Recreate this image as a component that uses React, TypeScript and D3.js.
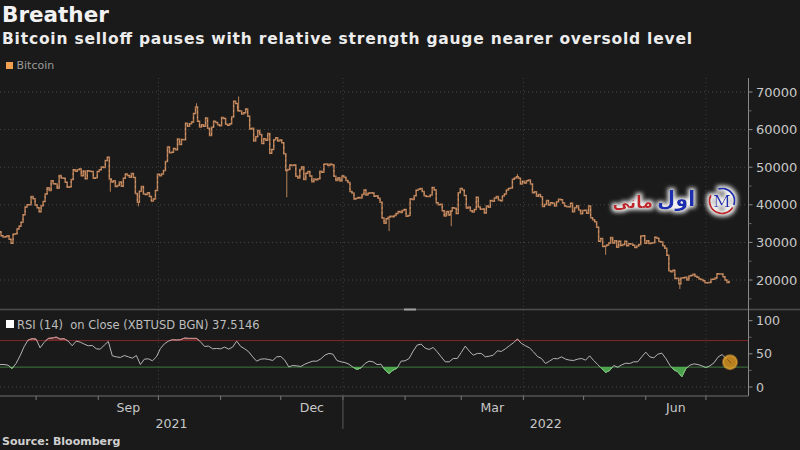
import React, { useEffect } from "react";
import * as d3 from "d3";

// ---- Data ----
const seriesStart = "2021-07-14";
const closeJul2021 = [32820, 31780, 31420, 31520, 31780, 30840, 29790, 32140, 32310, 33580, 34290, 35380, 37340, 39400, 40010, 40020, 42240, 41630];
const closeAug2021 = [39970, 39200, 38150, 39750, 40870, 42840, 44560, 43800, 46370, 45590, 45560, 44430, 47810, 47100, 47050, 46000, 44690, 44800, 46720, 49340, 48900, 49320, 49550, 47700, 48990, 46940, 49060, 48900, 48830, 47050, 47170];
const closeSep2021 = [48850, 49330, 50030, 49940, 51770, 52660, 46860, 46080, 46370, 44850, 45160, 46060, 44960, 47090, 48180, 47780, 47310, 48310, 47260, 43010, 40690, 43590, 44880, 42840, 42720, 43210, 42240, 41030, 41560, 43790];
const closeOct2021 = [48120, 47710, 48200, 49110, 51510, 55360, 53810, 53970, 54970, 54660, 57490, 56040, 57400, 57320, 61670, 60880, 61530, 62010, 64280, 66000, 62210, 60690, 61290, 60860, 63080, 60330, 58450, 60620, 62230, 61890, 61320];
const closeNov2021 = [61000, 63230, 62940, 61450, 61130, 61530, 63330, 67570, 66970, 64990, 64950, 64160, 64470, 65470, 63560, 60160, 60370, 56940, 58120, 59760, 58720, 56290, 57570, 57180, 58960, 53730, 54720, 57270, 57810, 56950];
const closeDec2021 = [57230, 56510, 53600, 49150, 49400, 50580, 50470, 50590, 47620, 47140, 49390, 50100, 46740, 48380, 48860, 47630, 46130, 46830, 46680, 46910, 48930, 48630, 50780, 50820, 50430, 50810, 50640, 47590, 46440, 47180, 46310];
const closeJan2022 = [47690, 47350, 46460, 45900, 43570, 43160, 41560, 41730, 41910, 41820, 42740, 43950, 42590, 43100, 43180, 43110, 42250, 42380, 41740, 40700, 36480, 35080, 36280, 36690, 36960, 36850, 37140, 37710, 38190, 37920, 38480];
const closeFeb2022 = [38740, 36950, 37150, 41570, 41400, 42410, 43840, 44120, 44340, 43570, 42410, 42240, 42200, 42590, 44580, 43960, 40540, 40030, 40120, 38430, 37020, 38250, 37270, 38330, 39220, 39110, 37710, 43190];
const closeMar2022 = [44350, 43920, 42450, 39150, 39400, 38420, 38060, 38740, 41980, 39440, 38790, 38900, 37850, 39670, 39340, 41140, 40950, 41800, 42190, 41250, 41080, 42360, 42890, 43960, 44350, 44500, 46820, 47130, 47460, 47060, 45540];
const closeApr2022 = [46280, 45810, 46410, 46620, 45560, 43210, 43440, 42250, 42760, 42160, 39530, 40070, 41150, 39940, 40550, 40400, 39700, 40800, 41490, 41370, 40480, 39710, 39470, 39450, 40430, 38120, 39240, 39740, 38600, 37650];
const closeMay2022 = [38470, 38530, 37750, 39690, 36550, 36010, 35470, 34060, 30300, 31020, 28940, 29050, 29280, 29860, 31300, 29860, 30420, 28720, 30300, 29200, 29430, 30320, 29100, 29650, 29560, 29270, 28630, 29030, 29470, 31730, 31790];
const closeJun2022 = [29800, 30450, 29700, 29860, 29900, 31370, 31130, 30210, 30110, 29090, 28420, 26570, 22490, 22210, 22580, 20380, 20470, 19020, 20550, 20570, 20720, 19970, 21090, 21230, 21500, 21030, 20730, 20280, 20100, 19780];
const closeJul2022 = [19300, 19250, 19320, 20230, 20190, 20550, 21630, 21590, 21590, 20860, 19970, 19330, 19600];

const wickDates = ["2021-09-07", "2021-09-21", "2021-12-04", "2022-01-24", "2022-02-24", "2022-05-12", "2022-06-18", "2021-11-10", "2021-10-20", "2022-03-29"];
const wickPrices = [43500, 39600, 42000, 33000, 34300, 26700, 17600, 68800, 67000, 48200];

const rsiStepDays = 2;
const rsiValues = [
  33.9, 33.9, 32.9, 27.9, 35.4, 47.0, 60.7, 70.8, 72.8, 72.3,
  59.1, 67.2, 73.3, 73.8, 75.3, 72.3, 72.8, 69.2, 62.2, 69.2,
  67.7, 64.7, 62.2, 62.7, 57.6, 57.1, 63.2, 68.7, 47.0, 45.5,
  44.5, 47.5, 45.5, 43.5, 47.5, 33.9, 42.0, 42.5, 39.5, 45.5,
  58.1, 65.2, 69.2, 71.3, 70.8, 71.3, 73.8, 73.3, 73.3, 73.3,
  68.2, 61.2, 61.7, 57.6, 58.1, 57.6, 60.2, 57.1, 60.2, 69.2,
  61.2, 57.6, 53.1, 45.5, 39.0, 42.0, 42.5, 41.5, 40.0, 45.5,
  46.0, 40.5, 30.4, 32.4, 31.9, 30.9, 34.4, 36.9, 39.0, 39.0,
  42.5, 48.0, 50.6, 49.5, 40.0, 38.0, 36.9, 34.4, 29.9, 26.4,
  28.9, 35.4, 39.0, 38.0, 33.9, 34.4, 25.4, 20.3, 25.4, 28.4,
  39.0, 39.5, 43.0, 54.1, 63.2, 64.7, 58.6, 56.6, 59.7, 53.1,
  45.5, 38.0, 38.0, 43.0, 43.0, 52.1, 61.7, 54.1, 48.0, 50.6,
  50.6, 45.5, 46.5, 48.0, 54.6, 53.6, 57.6, 62.2, 66.7, 72.3,
  65.7, 62.2, 59.1, 53.1, 46.0, 43.0, 35.4, 39.0, 43.0, 42.5,
  45.5, 42.0, 40.5, 40.0, 42.0, 43.0, 40.5, 47.0, 40.0, 33.9,
  27.9, 21.9, 24.9, 32.4, 29.9, 33.4, 35.9, 35.4, 38.0, 38.0,
  45.5, 52.6, 45.5, 44.0, 49.5, 51.1, 43.0, 32.9, 25.9, 22.9,
  15.3, 27.9, 32.9, 34.9, 33.9, 31.9, 29.4, 31.9, 36.4, 45.0,
  49.0, 43.0, 37.5146,
];
const rsiLastLabel = "37.5146";
const rsiOverbought = 70;
const rsiOversold = 30;

const priceTicks = [20000, 30000, 40000, 50000, 60000, 70000];
const priceMinorTicks = [15000, 25000, 35000, 45000, 55000, 65000];
const rsiTicks = [0, 50, 100];
const rsiMinorTicks = [25, 75];
const quarterLabels = ["Sep", "Dec", "Mar", "Jun"];
const quarterMonths = ["2021-09-01", "2021-12-01", "2022-03-01", "2022-06-01"];
const yearLabels = ["2021", "2022"];
const gridQuarters = ["2021-10-01", "2022-01-01", "2022-04-01", "2022-07-01"];

const title = "Breather";
const subtitle = "Bitcoin selloff pauses with relative strength gauge nearer oversold level";
const legendLabel = "Bitcoin";
const rsiLabel = "RSI (14)  on Close (XBTUSD BGN) ";
const source = "Source: Bloomberg";
const watermarkRed = "مانی";
const watermarkBlue = "اول";

// ---- Layout ----
const W = 800;
const H = 450;
const plotRight = 748.5;
const priceTop = 78;
const priceBottom = 309;
const rsiTop = 310;
const rsiBottom = 396;
const FONT = "DejaVu Sans, Verdana, sans-serif";
const BG = "#1a1a1a";

const parse = d3.utcParse("%Y-%m-%d");

export default function App() {
  useEffect(() => {
    document.body.style.margin = "0";
    document.body.style.background = BG;
  }, []);

  const closes = [
    ...closeJul2021, ...closeAug2021, ...closeSep2021, ...closeOct2021, ...closeNov2021, ...closeDec2021,
    ...closeJan2022, ...closeFeb2022, ...closeMar2022, ...closeApr2022, ...closeMay2022, ...closeJun2022, ...closeJul2022,
  ];
  const start = parse(seriesStart) as Date;
  const dates = closes.map((_, i) => d3.utcDay.offset(start, i));
  const end = dates[dates.length - 1];

  const x = d3.scaleUtc().domain([start, end]).range([0, 730]);
  const yP = d3.scaleLinear().domain([20000, 70000]).range([280, 92]);
  const yR = d3.scaleLinear().domain([0, 100]).range([387, 320.7]);

  const priceLine = d3
    .line<number>()
    .x((_, i) => x(dates[i]))
    .y((d) => yP(d))
    .curve(d3.curveStep);

  const rsiDates = rsiValues.map((_, i) => d3.utcDay.offset(start, i * rsiStepDays));
  const rsiLine = d3
    .line<number>()
    .x((_, i) => x(rsiDates[i]))
    .y((d) => yR(d));
  const rsiAreaLow = d3
    .area<number>()
    .x((_, i) => x(rsiDates[i]))
    .y0(yR(rsiOversold))
    .y1((d) => yR(d));
  const rsiAreaHigh = d3
    .area<number>()
    .x((_, i) => x(rsiDates[i]))
    .y0(yR(rsiOverbought))
    .y1((d) => yR(d));

  const months = d3.utcMonth.range(d3.utcMonth.ceil(x.invert(0)), x.invert(plotRight));
  const jan1 = parse("2022-01-01") as Date;
  const xJan = x(jan1);

  const lastX = x(rsiDates[rsiDates.length - 1]);
  const lastY = yR(rsiValues[rsiValues.length - 1]);

  const arc = d3.arc();
  const logoCx = 722;
  const logoCy = 201;

  return (
    <svg
      width={W}
      height={H}
      style={{ position: "absolute", left: 0, top: 0, display: "block", background: BG }}
      fontFamily={FONT}
    >
      <defs>
        <clipPath id="pricePanel">
          <rect x={0} y={priceTop} width={plotRight} height={priceBottom - priceTop} />
        </clipPath>
        <clipPath id="belowOversold">
          <rect x={0} y={yR(rsiOversold)} width={plotRight} height={rsiBottom - yR(rsiOversold)} />
        </clipPath>
        <clipPath id="aboveOverbought">
          <rect x={0} y={rsiTop} width={plotRight} height={yR(rsiOverbought) - rsiTop} />
        </clipPath>
        <filter id="glow" x="-30%" y="-60%" width="160%" height="220%">
          <feMorphology in="SourceAlpha" operator="dilate" radius="2" result="d" />
          <feGaussianBlur in="d" stdDeviation="2.2" result="b" />
          <feFlood floodColor="#ffffff" floodOpacity="0.95" />
          <feComposite in2="b" operator="in" result="g" />
          <feMerge>
            <feMergeNode in="g" />
            <feMergeNode in="SourceGraphic" />
          </feMerge>
        </filter>
      </defs>
      <rect x={0} y={0} width={W} height={H} fill={BG} />

      {/* Titles */}
      <text x={2} y={22} fill="#f2f2f2" fontSize={21.5} fontWeight="bold">{title}</text>
      <text x={2} y={43.5} fill="#ececec" fontSize={15.5} fontWeight="bold" textLength={690}>{subtitle}</text>

      {/* Legend */}
      <rect x={6} y={62} width={7} height={7} fill="#f0a050" />
      <text x={16.5} y={69} fill="#9a9a9a" fontSize={11}>{legendLabel}</text>

      {/* Gridlines price panel */}
      {priceTicks.map((t) => (
        <line key={"hg" + t} x1={0} x2={plotRight} y1={yP(t)} y2={yP(t)} stroke="#464646" strokeDasharray="1,3" />
      ))}
      {gridQuarters.map((q) => {
        const gx = x(parse(q) as Date);
        return (
          <g key={"vg" + q}>
            <line x1={gx} x2={gx} y1={priceTop} y2={priceBottom} stroke="#3e3e3e" strokeDasharray="1,3" />
            <line x1={gx} x2={gx} y1={rsiTop} y2={rsiBottom} stroke="#3e3e3e" strokeDasharray="1,3" />
          </g>
        );
      })}
      <line x1={0} x2={plotRight} y1={yR(0)} y2={yR(0)} stroke="#464646" strokeDasharray="1,3" />

      {/* Price series */}
      <g clipPath="url(#pricePanel)">
        {wickDates.map((wd, i) => {
          const dd = parse(wd) as Date;
          const idx = d3.utcDay.count(start, dd);
          return (
            <line key={"w" + wd} x1={x(dd)} x2={x(dd)} y1={yP(closes[idx])} y2={yP(wickPrices[i])} stroke="#b98259" strokeWidth={1} />
          );
        })}
        <path d={priceLine(closes) || ""} fill="none" stroke="#b37a52" strokeWidth={1.5} />
        <path d={priceLine(closes) || ""} fill="none" stroke="#e3b088" strokeWidth={0.6} strokeDasharray="2,3" />
      </g>

      {/* Panel separator */}
      <line x1={0} x2={W} y1={309.5} y2={309.5} stroke="#4e4e4e" strokeWidth={1.5} />
      <rect x={404} y={308.5} width={12} height={2} fill="#a0a0a0" />

      {/* RSI panel */}
      <text x={17} y={328.5} fill="#bdbdbd" fontSize={11.5} style={{ whiteSpace: "pre" }}>
        {rsiLabel + rsiLastLabel}
      </text>
      <rect x={6} y={320} width={8} height={8} fill="#ffffff" />
      <line x1={0} x2={plotRight} y1={yR(rsiOverbought)} y2={yR(rsiOverbought)} stroke="#7d2424" strokeWidth={1} />
      <line x1={0} x2={plotRight} y1={yR(rsiOversold)} y2={yR(rsiOversold)} stroke="#3f7a3f" strokeWidth={1} />
      <path d={rsiAreaLow(rsiValues) || ""} fill="#4fb04f" opacity={0.9} clipPath="url(#belowOversold)" />
      <path d={rsiAreaHigh(rsiValues) || ""} fill="#c05050" opacity={0.35} clipPath="url(#aboveOverbought)" />
      <path d={rsiLine(rsiValues) || ""} fill="none" stroke="#b5b5b5" strokeWidth={1} />
      <path d={rsiLine(rsiValues) || ""} fill="none" stroke="#d88080" strokeWidth={1} clipPath="url(#aboveOverbought)" />
      <path d={rsiLine(rsiValues) || ""} fill="none" stroke="#6cc46c" strokeWidth={1} clipPath="url(#belowOversold)" />
      <circle cx={lastX} cy={lastY} r={7} fill="#e09a20" fillOpacity={0.8} stroke="#f0b040" strokeOpacity={0.5} strokeWidth={2} />
      <line x1={lastX - 3} y1={lastY - 3} x2={lastX + 1} y2={lastY + 1} stroke="#7a4a10" strokeWidth={1} />

      {/* Right axis */}
      <line x1={plotRight} x2={plotRight} y1={priceTop} y2={rsiBottom} stroke="#8a8a8a" strokeWidth={1} />
      {priceTicks.map((t) => (
        <g key={"pt" + t}>
          <line x1={plotRight} x2={plotRight + 4} y1={yP(t)} y2={yP(t)} stroke="#8a8a8a" />
          <text x={756} y={yP(t) + 4.6} fill="#c8c8c8" fontSize={13}>{t}</text>
        </g>
      ))}
      {priceMinorTicks.map((t) => (
        <line key={"pm" + t} x1={plotRight} x2={plotRight + 3} y1={yP(t)} y2={yP(t)} stroke="#6a6a6a" />
      ))}
      {rsiTicks.map((t) => (
        <g key={"rt" + t}>
          <line x1={plotRight} x2={plotRight + 4} y1={yR(t)} y2={yR(t)} stroke="#8a8a8a" />
          <text x={756} y={yR(t) + 4.5} fill="#c8c8c8" fontSize={12.6}>{t}</text>
        </g>
      ))}
      {rsiMinorTicks.map((t) => (
        <line key={"rm" + t} x1={plotRight} x2={plotRight + 3} y1={yR(t)} y2={yR(t)} stroke="#6a6a6a" />
      ))}

      {/* Bottom axis */}
      <line x1={0} x2={plotRight} y1={rsiBottom} y2={rsiBottom} stroke="#6e6e6e" strokeWidth={1} />
      {months.map((m) => (
        <line key={"mt" + m.toISOString()} x1={x(m)} x2={x(m)} y1={rsiBottom} y2={rsiBottom + 4} stroke="#7a7a7a" />
      ))}
      {quarterMonths.map((qm, i) => {
        const m0 = parse(qm) as Date;
        const m1 = d3.utcMonth.offset(m0, 1);
        return (
          <text key={"ql" + qm} x={(x(m0) + x(m1)) / 2} y={411.5} fill="#c8c8c8" fontSize={12.5} textAnchor="middle">
            {quarterLabels[i]}
          </text>
        );
      })}
      <line x1={xJan} x2={xJan} y1={rsiBottom} y2={429} stroke="#5a5a5a" strokeWidth={1} />
      <text x={xJan / 2} y={427.5} fill="#c8c8c8" fontSize={12.6} textAnchor="middle">{yearLabels[0]}</text>
      <text x={(xJan + plotRight) / 2} y={427.5} fill="#c8c8c8" fontSize={12.6} textAnchor="middle">{yearLabels[1]}</text>

      {/* Source */}
      <text x={2} y={445} fill="#d0d0d0" fontSize={11} fontWeight="bold">{source}</text>

      {/* Watermark */}
      <g filter="url(#glow)">
        <text x={653} y={208} fill="#c0262c" fontSize={17} fontWeight="bold" textAnchor="end">
          {watermarkRed}
        </text>
        <text x={657} y={206} fill="#1f2fb0" fontSize={21} fontWeight="bold" textAnchor="start">
          {watermarkBlue}
        </text>
        <g transform={`translate(${logoCx},${logoCy})`}>
          <path d={arc({ innerRadius: 11.5, outerRadius: 13.5, startAngle: -0.3, endAngle: 1.9 }) || ""} fill="#1f2fb0" />
          <path d={arc({ innerRadius: 11.5, outerRadius: 13.5, startAngle: 2.1, endAngle: 5.2 }) || ""} fill="#c0262c" />
          <text x={0} y={6} fill="#1f2fb0" fontSize={17} fontFamily="DejaVu Serif, serif" textAnchor="middle">M</text>
        </g>
      </g>
    </svg>
  );
}
